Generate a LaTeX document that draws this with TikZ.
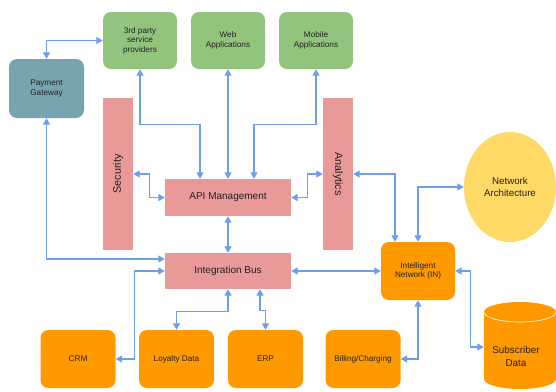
\documentclass[tikz,border=0pt]{standalone}
\usepackage{fontspec}
\setmainfont{Liberation Sans}
\usetikzlibrary{arrows.meta,shapes.geometric}

\definecolor{appgreen}{HTML}{93C47D}
\definecolor{gatewayteal}{HTML}{76A5AF}
\definecolor{corepink}{HTML}{EA9999}
\definecolor{sysorange}{HTML}{FF9900}
\definecolor{netyellow}{HTML}{FFD966}
\definecolor{linkblue}{HTML}{6D9EEB}
\definecolor{labelgrey}{HTML}{222222}

\tikzset{
  box/.style={rectangle, inner sep=0pt, align=center, text=labelgrey,
    font=\fontsize{8.2}{9.6}\selectfont},
  appbox/.style={box, fill=appgreen, rounded corners=8pt,
    minimum width=74pt, minimum height=57pt},
  gatebox/.style={box, fill=gatewayteal, rounded corners=8pt,
    minimum width=75pt, minimum height=59pt},
  sysbox/.style={box, fill=sysorange, rounded corners=8pt,
    minimum width=75pt, minimum height=58pt},
  corebox/.style={box, fill=corepink, minimum width=126pt,
    font=\fontsize{10}{12}\selectfont},
  barbox/.style={box, fill=corepink, minimum width=30pt, minimum height=152pt},
  bartext/.style={inner sep=0pt, text=labelgrey, font=\fontsize{10.8}{12}\selectfont},
  link/.style={draw=linkblue, line width=1.3pt,
    {Triangle[length=6.5pt,width=7pt]}-{Triangle[length=6.5pt,width=7pt]}}
}

\begin{document}
\begin{tikzpicture}[x=1pt, y=-1pt]
  \useasboundingbox (0,0) rectangle (556,391);

  % consumers on top
  \node[appbox] (third)  at (140,40.5) {3rd party\\service\\providers};
  \node[appbox] (web)    at (228,40.5) {Web\\Applications};
  \node[appbox] (mobile) at (316,40.5) {Mobile\\Applications};
  \node[gatebox] (pay)   at (46.5,88.5) {Payment\\Gateway};

  % side bars
  \node[barbox] (sec) at (118,174) {};
  \node[bartext, rotate=90] (secl) at (sec) {Security};
  \node[barbox] (ana) at (338,174) {};
  \node[bartext, rotate=-90] (anal) at (ana) {Analytics};

  % core layers
  \node[corebox, minimum height=37pt] (api) at (228,197.5) {API Management};
  \node[corebox, minimum height=36pt] (ib)  at (228,271) {Integration Bus};

  % network side
  \node[sysbox, minimum width=74pt] (in) at (418,271) {Intelligent\\Network (IN)};
  \node[ellipse, fill=netyellow, inner sep=0pt, minimum width=92pt,
        minimum height=110pt, align=center, text=labelgrey,
        font=\fontsize{9.7}{11.5}\selectfont] (net) at (510,187)
        {Network\\Architecture};

  % back-end systems
  \node[sysbox] (crm)  at (78,359)    {CRM};
  \node[sysbox] (loy)  at (176.5,359) {Loyalty Data};
  \node[sysbox] (erp)  at (265.5,359) {ERP};
  \node[sysbox] (bill) at (363,359)   {Billing/Charging};

  % subscriber database drum (y axis points down here)
  \fill[sysorange] (484,312) -- (484,379) arc[start angle=180, end angle=0,
    x radius=36, y radius=10] -- (556,312) arc[start angle=0, end angle=-180,
    x radius=36, y radius=10] -- cycle;
  \draw[white, line width=0.6pt] (484,312) arc[start angle=180, end angle=0,
    x radius=36, y radius=10];
  \node[inner sep=0pt, minimum width=72pt, minimum height=88pt] (subs) at (520,347) {};
  \node[align=center, inner sep=0pt, text=labelgrey,
        font=\fontsize{9.9}{13}\selectfont] (subsl) at (516,356) {Subscriber\\Data};

  % connectors
  \draw[link] (pay.north) |- (third.west);
  \draw[link] (pay.south) |- ([yshift=12pt]ib.west);
  \draw[link] (crm.east) -| ([xshift=-30pt]ib.west) -- (ib.west);
  \draw[link] (third.south) -- ++(0,55) -| ([xshift=-28pt]api.north);
  \draw[link] (web.south) -- (api.north);
  \draw[link] (mobile.south) -- ++(0,55) -| ([xshift=26pt]api.north);
  \draw[link] (sec.east) -- ++(16,0) |- (api.west);
  \draw[link] (api.east) -- ++(16,0) |- (ana.west);
  \draw[link] (ana.east) -| ([xshift=-23pt]in.north);
  \draw[link] (net.west) -| (in.north);
  \draw[link] (api.south) -- (ib.north);
  \draw[link] (ib.east) -- (in.west);
  \draw[link] (ib.south) -- ++(0,22) -| (loy.north);
  \draw[link] ([xshift=32pt]ib.south) -- ++(0,21) -| (erp.north);
  \draw[link] (in.south) |- (bill.east);
  \draw[link] (in.east) -- ++(15,0) |- (subs.west);
\end{tikzpicture}
\end{document}
